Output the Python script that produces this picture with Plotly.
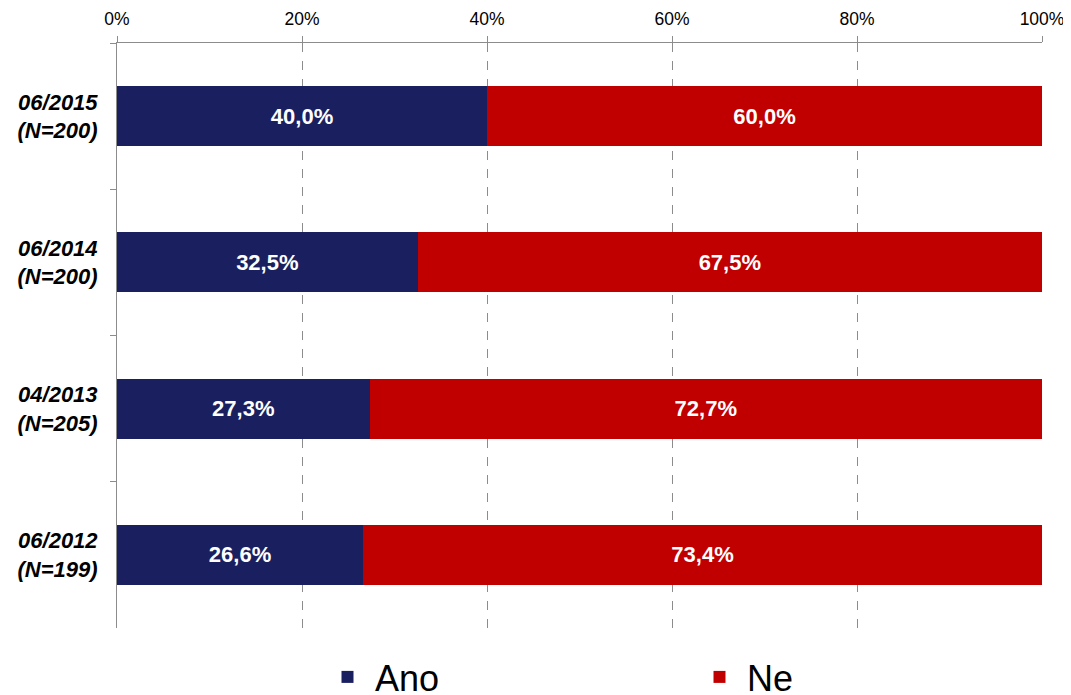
import plotly.graph_objects as go

categories = ["06/2015<br>(N=200)", "06/2014<br>(N=200)", "04/2013<br>(N=205)", "06/2012<br>(N=199)"]
ano = [40.0, 32.5, 27.3, 26.6]
ne = [60.0, 67.5, 72.7, 73.4]
x_ticks = [0, 20, 40, 60, 80, 100]
x_ticklabels = ["0%", "20%", "40%", "60%", "80%", "100%"]

ylabels = [f"<b><i>{c}</i></b>" for c in categories]

def fmt(v):
    return f"<b>{v:.1f}%</b>".replace(".", ",")

lbl_font = dict(color="white", size=22, family="Liberation Sans, Arial")

W, H = 1063, 695

fig = go.Figure()
fig.add_trace(go.Bar(
    y=ylabels, x=ano, name="Ano", orientation="h", legend="legend",
    marker=dict(color="#1a1f60", line=dict(width=0)),
    text=[fmt(v) for v in ano], textposition="inside", insidetextanchor="middle",
    textfont=lbl_font,
))
fig.add_trace(go.Bar(
    y=ylabels, x=ne, name="Ne", orientation="h", legend="legend2",
    marker=dict(color="#c00000", line=dict(width=0)),
    text=[fmt(v) for v in ne], textposition="inside", insidetextanchor="middle",
    textfont=lbl_font,
))

leg_common = dict(
    orientation="h", yref="container", y=(H - 669) / H, yanchor="middle",
    xref="container", xanchor="left",
    font=dict(size=36, color="#000000"),
    itemclick=False, itemwidth=45, bgcolor="rgba(0,0,0,0)",
)

fig.update_layout(
    barmode="stack",
    bargap=0.59,
    width=W, height=H,
    margin=dict(l=109, r=W - 1034, t=35, b=H - 620, autoexpand=False),
    plot_bgcolor="white", paper_bgcolor="white",
    font=dict(family="Liberation Sans, Arial", color="#000000"),
    showlegend=True,
    legend=dict(x=312 / W, **leg_common),
    legend2=dict(x=684 / W, **leg_common),
    uniformtext=dict(mode="show", minsize=10),
)
fig.update_xaxes(
    side="top", range=[0, 100], tickvals=x_ticks, ticktext=x_ticklabels,
    showgrid=True, gridcolor="#8c8c8c", griddash="dash", gridwidth=1,
    showline=True, linecolor="#8c8c8c", linewidth=1,
    ticks="outside", ticklen=6, tickcolor="#8c8c8c",
    ticklabelstandoff=4, ticklabeloverflow="allow",
    tickfont=dict(size=17.5, color="#000000"),
    zeroline=False,
)
fig.update_yaxes(
    categoryorder="array", categoryarray=ylabels, autorange="reversed",
    showline=True, linecolor="#8c8c8c", linewidth=1,
    ticks="outside", tickson="boundaries", ticklen=6, tickcolor="#8c8c8c",
    ticklabelstandoff=14,
    tickfont=dict(size=22, color="#000000"),
    showgrid=False, zeroline=False,
)

fig.write_html("out.html")
